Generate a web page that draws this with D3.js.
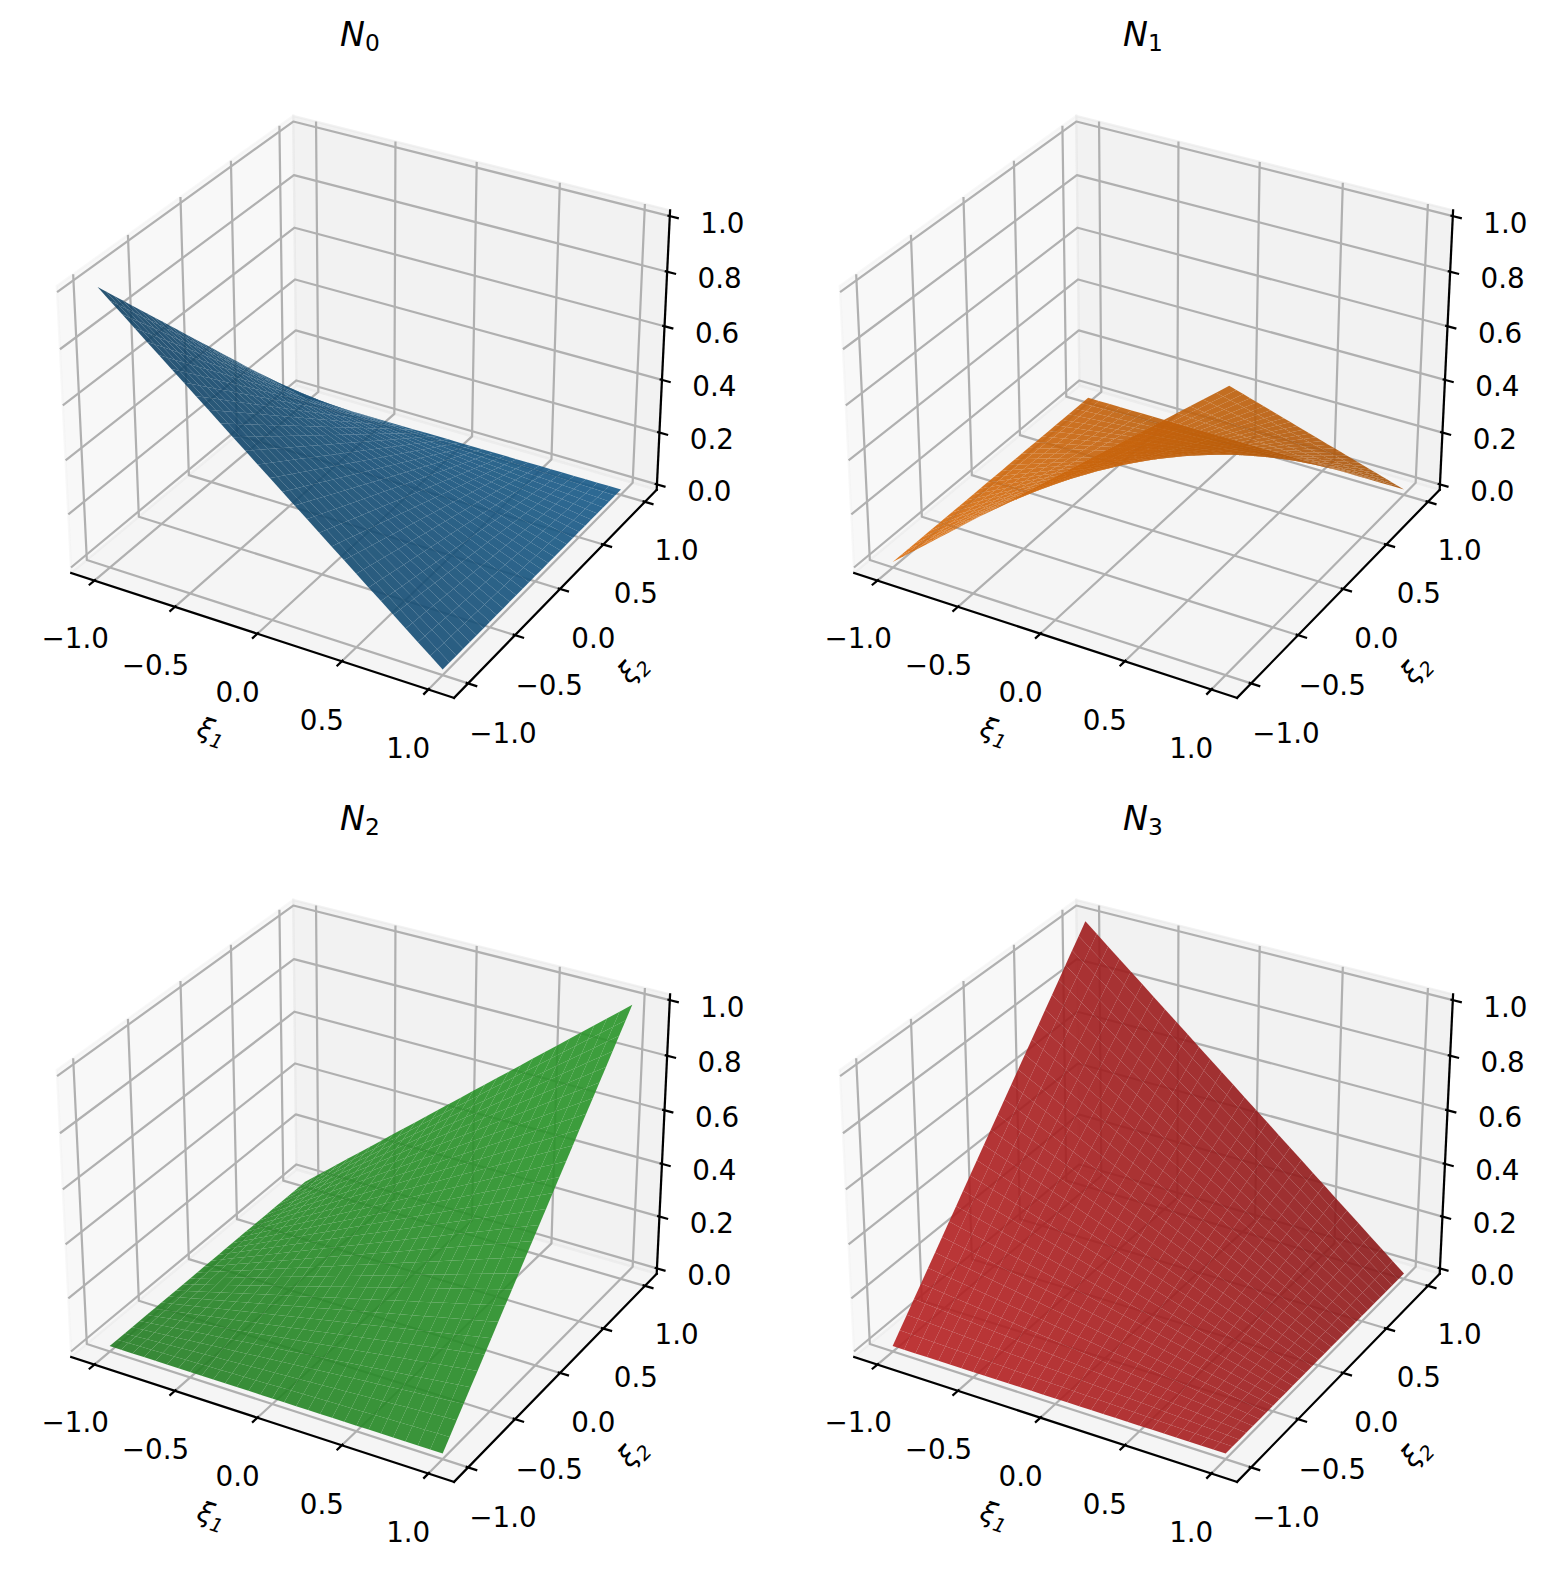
<!DOCTYPE html>
<html><head><meta charset="utf-8">
<script src="https://cdn.jsdelivr.net/npm/d3@7"></script>
<style>html,body{margin:0;padding:0;background:#fff}svg{display:block}text{font-family:"DejaVu Sans";fill:#000}</style>
</head><body><div id="c"></div>
<script>
// ---- data ----
const titles = ["0", "1", "2", "3"];
const colors = ["#1f77b4", "#ff7f0e", "#2ca02c", "#d62728"];
const xTicks = [-1, -0.5, 0, 0.5, 1];
const yTicks = [-1, -0.5, 0, 0.5, 1];
const zTicks = [0, 0.2, 0.4, 0.6, 0.8, 1];
const xiNodes = [-1,-0.9286,-0.8571,-0.7857,-0.7143,-0.6429,-0.5714,-0.5,-0.4286,-0.3571,-0.2857,-0.2143,-0.1429,-0.0714,0,0.0714,0.1429,0.2143,0.2857,0.3571,0.4286,0.5,0.5714,0.6429,0.7143,0.7857,0.8571,0.9286,1];
const falling = [1,0.9643,0.9286,0.8929,0.8571,0.8214,0.7857,0.75,0.7143,0.6786,0.6429,0.6071,0.5714,0.5357,0.5,0.4643,0.4286,0.3929,0.3571,0.3214,0.2857,0.25,0.2143,0.1786,0.1429,0.1071,0.0714,0.0357,0];
const rising = [0,0.0357,0.0714,0.1071,0.1429,0.1786,0.2143,0.25,0.2857,0.3214,0.3571,0.3929,0.4286,0.4643,0.5,0.5357,0.5714,0.6071,0.6429,0.6786,0.7143,0.75,0.7857,0.8214,0.8571,0.8929,0.9286,0.9643,1];
// each surface is described by its edge profile along xi1 and along xi2
const profilesXi1 = [falling, rising, rising, falling];
const profilesXi2 = [falling, falling, rising, rising];

// ---- layout ----
const W = 1548, H = 1570, colStep = 783, rowStep = 784;
const xLim = [-1.1, 1.1], yLim = [-1.1, 1.1], zLim = [0, 1];
const ext = l => { const d = (l[1] - l[0]) / 48; return [l[0] - d, l[1] + d]; };
const xE = ext(xLim), yE = ext(yLim), zE = ext(zLim);
const boxK = 1.8294640721620434 * 25 / 24 / Math.sqrt(41);
const box = [4 * boxK, 4 * boxK, 3 * boxK];
const wx = d3.scaleLinear().domain(xLim).range([0, box[0]]);
const wy = d3.scaleLinear().domain(yLim).range([0, box[1]]);
const wz = d3.scaleLinear().domain(zLim).range([0, box[2]]);
const el = 30 * Math.PI / 180, az = -60 * Math.PI / 180, dist = 10;
const w = [Math.cos(el) * Math.cos(az), Math.cos(el) * Math.sin(az), Math.sin(el)];
const u = [-Math.sin(az), Math.cos(az), 0];
const v = [w[1]*u[2]-w[2]*u[1], w[2]*u[0]-w[0]*u[2], w[0]*u[1]-w[1]*u[0]];
const dot = (a, b) => a[0]*b[0] + a[1]*b[1] + a[2]*b[2];
const px = d3.scaleLinear().domain([0, 0.1]).range([369.6, 369.6 + 353.5]);
const py = d3.scaleLinear().domain([0, 0.1]).range([392.3, 392.3 - 351.3]);
function view(x, y, z) {
  const d = [wx(x) - box[0]/2, wy(y) - box[1]/2, wz(z) - box[2]/2];
  const zv = dot(d, w);
  return { x: dot(d, u) / (dist - zv), y: dot(d, v) / (dist - zv), z: zv };
}
function P(x, y, z) { const p = view(x, y, z); return [px(p.x), py(p.y)]; }
const line = d3.line();
const light = [-2/3, -2/3, 1/3];
const shadeScale = d3.scaleLinear().domain([-1, 1]).range([0.3, 1]);

const svg = d3.select("#c").append("svg").attr("width", W).attr("height", H).attr("viewBox", [0,0,W,H]);
svg.append("rect").attr("width", W).attr("height", H).attr("fill", "#fff");

const inT = 0.014, outT = 0.052, GRID = "#b0b0b0", LW = 2.22;
const offX = { x: d3.scaleLinear().domain([-1,1]).range([-19.2,-20.2]), y: d3.scaleLinear().domain([-1,1]).range([55,56]) };
const offY = { x: d3.scaleLinear().domain([-1,1]).range([34.8,31.8]), y: d3.scaleLinear().domain([-1,1]).range([47,45]) };
const offZ = [52.5, 3.6];
const fmt = d3.format(".1f");
const tick = t => fmt(t).replace("-", "\u2212");

titles.forEach((sub, k) => {
  const g = svg.append("g").attr("transform", `translate(${(k % 2) * colStep},${Math.floor(k / 2) * rowStep})`);
  // panes
  const panes = [
    { c: "rgba(242,242,242,0.5)", p: [[xE[0],yE[0],zE[0]],[xE[0],yE[1],zE[0]],[xE[0],yE[1],zE[1]],[xE[0],yE[0],zE[1]]] },
    { c: "rgba(230,230,230,0.5)", p: [[xE[0],yE[1],zE[0]],[xE[1],yE[1],zE[0]],[xE[1],yE[1],zE[1]],[xE[0],yE[1],zE[1]]] },
    { c: "rgba(236,236,236,0.5)", p: [[xE[0],yE[0],zE[0]],[xE[1],yE[0],zE[0]],[xE[1],yE[1],zE[0]],[xE[0],yE[1],zE[0]]] }
  ];
  g.append("g").selectAll("path").data(panes).join("path")
    .attr("d", d => line(d.p.map(q => P(...q))) + "Z")
    .attr("fill", d => d.c).attr("stroke", d => d.c).attr("stroke-width", LW);
  // axis lines
  const axes = [
    [[xE[0],yE[0],zE[0]],[xE[1],yE[0],zE[0]]],
    [[xE[1],yE[0],zE[0]],[xE[1],yE[1],zE[0]]],
    [[xE[1],yE[1],zE[0]],[xE[1],yE[1],zE[1]]]
  ];
  // grid
  const grid = [
    ...xTicks.map(t => [[t,yE[0],zE[0]],[t,yE[1],zE[0]],[t,yE[1],zE[1]]]),
    ...yTicks.map(t => [[xE[1],t,zE[0]],[xE[0],t,zE[0]],[xE[0],t,zE[1]]]),
    ...zTicks.map(t => [[xE[0],yE[0],t],[xE[0],yE[1],t],[xE[1],yE[1],t]])
  ];
  g.append("g").selectAll("path").data(grid).join("path")
    .attr("d", d => line(d.map(q => P(...q))))
    .attr("fill", "none").attr("stroke", GRID).attr("stroke-width", LW).attr("stroke-linejoin", "round");
  g.append("g").selectAll("path").data(axes).join("path")
    .attr("d", d => line(d.map(q => P(...q))))
    .attr("stroke", "#000").attr("stroke-width", LW).attr("stroke-linecap", "square");
  const tickSegs = [
    ...xTicks.map(t => [[t,yE[0]-outT,zE[0]],[t,yE[0]+inT,zE[0]]]),
    ...yTicks.map(t => [[xE[1]+outT,t,zE[0]],[xE[1]-inT,t,zE[0]]]),
    ...zTicks.map(t => [[xE[1]+outT,yE[1],t],[xE[1]-inT,yE[1],t]])
  ];
  g.append("g").selectAll("path").data(tickSegs).join("path")
    .attr("d", d => line(d.map(q => P(...q))))
    .attr("stroke", "#000").attr("stroke-width", LW);
  // tick labels
  const labels = [
    ...xTicks.map(t => { const p = P(t,yE[0],zE[0]); return { t, x: p[0] + offX.x(t), y: p[1] + offX.y(t) }; }),
    ...yTicks.map(t => { const p = P(xE[1],t,zE[0]); return { t, x: p[0] + offY.x(t), y: p[1] + offY.y(t) }; }),
    ...zTicks.map(t => { const p = P(xE[1],yE[1],t); return { t, x: p[0] + offZ[0], y: p[1] + offZ[1] }; })
  ];
  g.append("g").selectAll("text").data(labels).join("text")
    .attr("x", d => d.x).attr("y", d => d.y).attr("dy", "0.465em")
    .attr("text-anchor", "middle").attr("font-size", 27.78).text(d => tick(d.t));
  // surface
  const a = profilesXi1[k], b = profilesXi2[k], facets = [];
  for (let i = 0; i < xiNodes.length - 1; i++) for (let j = 0; j < xiNodes.length - 1; j++) {
    const q = [[i,j],[i+1,j],[i+1,j+1],[i,j+1]].map(([m,n]) => [xiNodes[m], xiNodes[n], a[m] * b[n]]);
    const d1 = [q[2][0]-q[0][0], q[2][1]-q[0][1], q[2][2]-q[0][2]];
    const d2 = [q[3][0]-q[1][0], q[3][1]-q[1][1], q[3][2]-q[1][2]];
    const n = [d1[1]*d2[2]-d1[2]*d2[1], d1[2]*d2[0]-d1[0]*d2[2], d1[0]*d2[1]-d1[1]*d2[0]];
    const len = Math.sqrt(dot(n, n));
    const s = dot(n, light) / len;
    facets.push({ q, s, depth: d3.mean(q, p => view(...p).z) });
  }
  facets.sort((m, n) => d3.ascending(m.depth, n.depth));
  const base = d3.rgb(colors[k]);
  g.append("g").selectAll("path").data(facets).join("path")
    .attr("d", d => line(d.q.map(p => P(...p))) + "Z")
    .attr("fill", d => { const f = shadeScale(d.s); return `rgb(${base.r*f},${base.g*f},${base.b*f})`; })
    .attr("fill-opacity", 0.9);
  // axis labels
  const xl = P(0, yE[0], zE[0]), yl = P(xE[1], 0, zE[0]);
  const sym = (x, y, rot, idx) => {
    const t = g.append("text").attr("transform", `translate(${x},${y}) rotate(${rot})`)
      .attr("text-anchor", "middle").attr("font-size", 27.78).attr("font-style", "italic").attr("dy", "0.3em");
    t.append("tspan").text("\u03BE");
    t.append("tspan").attr("font-size", 19.4).attr("dy", 6).text(idx);
  };
  sym(xl[0] - 46, xl[1] + 98, 18, "1");
  sym(yl[0] + 73, yl[1] + 80, -46, "2");
  // title
  const tt = g.append("text").attr("x", 360).attr("y", 46).attr("text-anchor", "middle").attr("font-size", 33.33);
  tt.append("tspan").attr("font-style", "italic").text("N");
  tt.append("tspan").attr("font-size", 23.3).attr("dy", 5).text(sub);
});
</script></body></html>
